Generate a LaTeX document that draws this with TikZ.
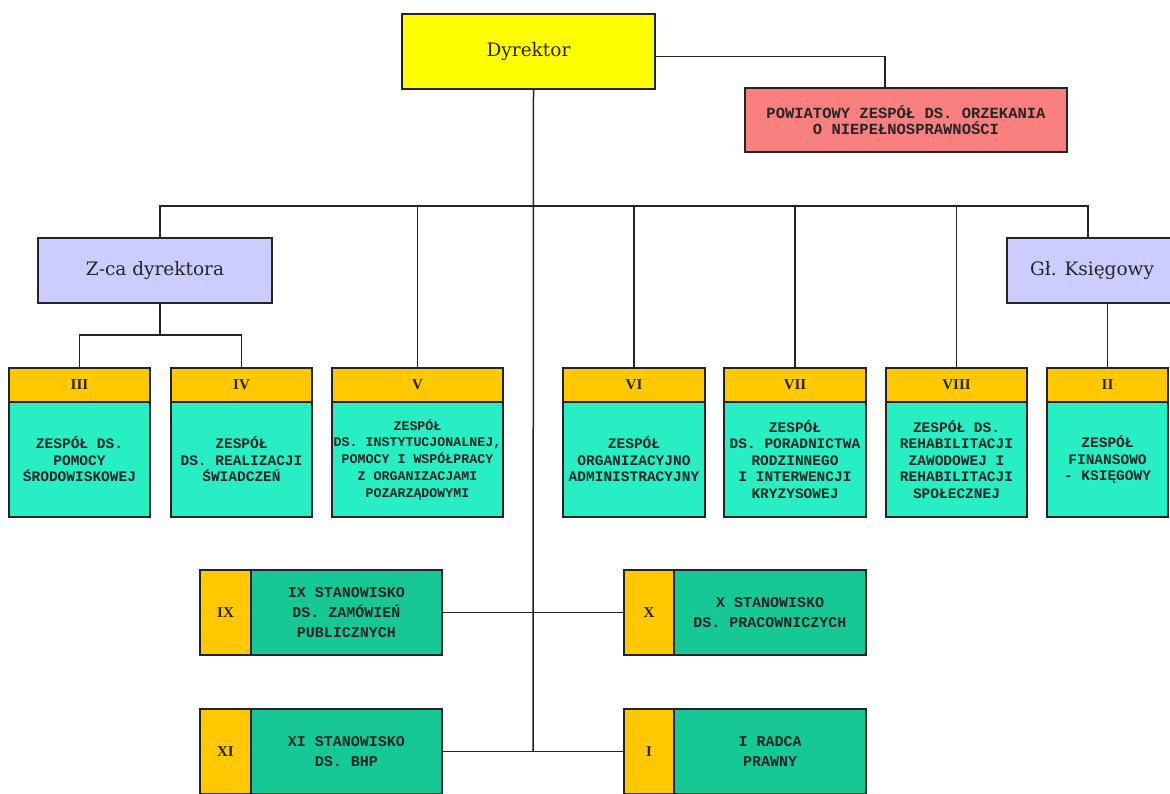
\documentclass[tikz,border=0pt]{standalone}
\usepackage{fontspec}
\setmainfont{DejaVu Serif}
\newfontfamily\monof{Liberation Mono}
\newfontfamily\numf{Liberation Serif}
\definecolor{lineC}{RGB}{35,35,40}
\definecolor{dirY}{RGB}{255,255,0}
\definecolor{powR}{RGB}{250,128,128}
\definecolor{lav}{RGB}{204,204,255}
\definecolor{gold}{RGB}{255,200,0}
\definecolor{aqua}{RGB}{40,238,196}
\definecolor{teal}{RGB}{22,200,150}
\tikzset{
  obox/.style={draw=lineC, line width=1.4pt, inner sep=0pt, outer sep=0pt, anchor=north west, align=center, text=black!85},
  bigbox/.style={obox, font=\fontsize{18.5}{22}\selectfont},
  hdrbox/.style={obox, fill=gold, minimum height=34pt, font=\numf\bfseries\fontsize{15}{18}\selectfont},
  bodybox/.style={obox, fill=aqua, minimum height=115pt, font=\monof\bfseries\fontsize{14.5}{16.5}\selectfont},
  numbox/.style={obox, fill=gold, minimum width=51pt, minimum height=85pt, font=\numf\bfseries\fontsize{15}{18}\selectfont},
  posbox/.style={obox, fill=teal, minimum width=191pt, minimum height=85pt, font=\monof\bfseries\fontsize{15}{20}\selectfont},
  conn/.style={draw=lineC, line width=1.5pt}
}
\begin{document}
\begin{tikzpicture}[x=1pt,y=-1pt]
\useasboundingbox (0,0) rectangle (1170,793);
\clip (0,0) rectangle (1170,793);
\fill[white] (0,0) rectangle (1170,793);

% top
\node[bigbox, fill=dirY, minimum width=253pt, minimum height=75pt] (dyr) at (402,14) {Dyrektor};
\node[obox, fill=powR, minimum width=322pt, minimum height=64pt, font=\monof\bfseries\fontsize{15.5}{16}\selectfont] (pow) at (745,88) {POWIATOWY ZESPÓŁ DS. ORZEKANIA\\O NIEPEŁNOSPRAWNOŚCI};

\node[bigbox, fill=lav, minimum width=234pt, minimum height=65pt] (zca) at (38,238) {Z-ca dyrektora};
\node[bigbox, fill=lav, minimum width=170pt, minimum height=65pt] (gk) at (1007,238) {Gł. Księgowy};

% row of teams
\node[hdrbox, minimum width=141pt] (h3) at (9,368) {III};
\node[bodybox, minimum width=141pt] (b3) at (9,402) {ZESPÓŁ DS.\\POMOCY\\ŚRODOWISKOWEJ};
\node[hdrbox, minimum width=141pt] (h4) at (171,368) {IV};
\node[bodybox, minimum width=141pt] (b4) at (171,402) {ZESPÓŁ\\DS. REALIZACJI\\ŚWIADCZEŃ};
\node[hdrbox, minimum width=171pt] (h5) at (332,368) {V};
\node[bodybox, minimum width=171pt, font=\monof\bfseries\fontsize{13.3}{16.7}\selectfont] (b5) at (332,402) {ZESPÓŁ\\DS. INSTYTUCJONALNEJ,\\POMOCY I WSPÓŁPRACY\\Z ORGANIZACJAMI\\POZARZĄDOWYMI};
\node[hdrbox, minimum width=142pt] (h6) at (563,368) {VI};
\node[bodybox, minimum width=142pt] (b6) at (563,402) {ZESPÓŁ\\ORGANIZACYJNO\\ADMINISTRACYJNY};
\node[hdrbox, minimum width=142pt] (h7) at (724,368) {VII};
\node[bodybox, minimum width=142pt] (b7) at (724,402) {ZESPÓŁ\\DS. PORADNICTWA\\RODZINNEGO\\I INTERWENCJI\\KRYZYSOWEJ};
\node[hdrbox, minimum width=141pt] (h8) at (886,368) {VIII};
\node[bodybox, minimum width=141pt] (b8) at (886,402) {ZESPÓŁ DS.\\REHABILITACJI\\ZAWODOWEJ I\\REHABILITACJI\\SPOŁECZNEJ};
\node[hdrbox, minimum width=121pt] (h2) at (1047,368) {II};
\node[bodybox, minimum width=121pt] (b2) at (1047,402) {ZESPÓŁ\\FINANSOWO\\- KSIĘGOWY};

% positions
\node[numbox] (n9) at (200,570) {IX};
\node[posbox] (p9) at (251,570) {IX STANOWISKO\\DS. ZAMÓWIEŃ\\PUBLICZNYCH};
\node[numbox, minimum width=50pt] (n10) at (624,570) {X};
\node[posbox, minimum width=192pt] (p10) at (674,570) {X STANOWISKO\\DS. PRACOWNICZYCH};
\node[numbox] (n11) at (200,709) {XI};
\node[posbox] (p11) at (251,709) {XI STANOWISKO\\DS. BHP};
\node[numbox, minimum width=50pt] (n1) at (624,709) {I};
\node[posbox, minimum width=192pt] (p1) at (674,709) {I RADCA\\PRAWNY};

% connectors
\coordinate (busL) at (160,206);
\coordinate (busR) at (1088,206);
\coordinate (trunkEnd) at (533,751.5);
\coordinate (zsplit) at (160,335);

\draw[conn] ([yshift=-5pt]dyr.east) -| ([xshift=-21pt]pow.north);
\draw[conn] ([xshift=5pt]dyr.south) -- (trunkEnd);
\draw[conn] ([xshift=5pt]zca.north) -- (busL) -- (busR) -- (busR |- gk.north);
\draw[conn] (h5.north) -- (h5.north |- busL);
\draw[conn] (h6.north) -- (h6.north |- busL);
\draw[conn] (h7.north) -- (h7.north |- busL);
\draw[conn] (h8.north) -- (h8.north |- busL);
\draw[conn] ([xshift=5pt]zca.south) -- (zsplit);
\draw[conn] (h3.north) |- (zsplit) -| (h4.north);
\draw[conn] (h2.north |- gk.south) -- (h2.north);
\draw[conn] (p9.east) -- (p9.east -| trunkEnd);
\draw[conn] (n10.west) -- (n10.west -| trunkEnd);
\draw[conn] (p11.east) -- (p11.east -| trunkEnd);
\draw[conn] (n1.west) -- (n1.west -| trunkEnd);
\end{tikzpicture}
\end{document}
